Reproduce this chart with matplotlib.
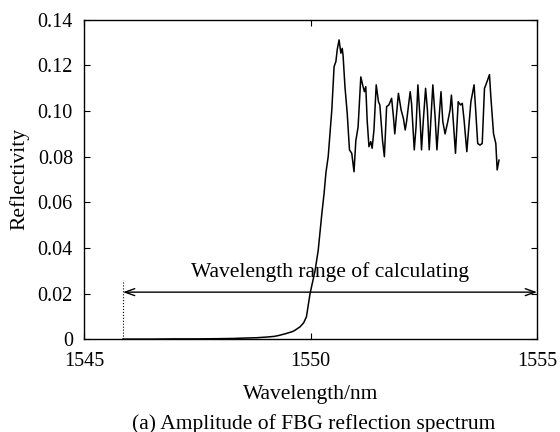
import matplotlib
matplotlib.use("Agg")
import matplotlib.pyplot as plt

# reflection spectrum (wavelength in nm, reflectivity)
wavelength = [1545.86, 1546.5, 1547.0, 1547.5, 1548.0, 1548.3, 1548.6, 1548.8, 1549.03,
              1549.2, 1549.3, 1549.47, 1549.6, 1549.65, 1549.77, 1549.85, 1549.91, 1549.99,
              1550.1, 1550.17, 1550.25, 1550.30, 1550.34, 1550.39, 1550.47, 1550.52,
              1550.56, 1550.59, 1550.63, 1550.67, 1550.70, 1550.72, 1550.76, 1550.81,
              1550.86, 1550.91, 1550.96, 1551.00, 1551.05, 1551.11, 1551.15, 1551.19,
              1551.22, 1551.25, 1551.29, 1551.33, 1551.36, 1551.40, 1551.45, 1551.50,
              1551.53, 1551.59, 1551.63, 1551.68, 1551.73, 1551.79, 1551.83, 1551.86,
              1551.94, 1552.00, 1552.05, 1552.09, 1552.12, 1552.20, 1552.23, 1552.29,
              1552.33, 1552.37, 1552.42, 1552.45, 1552.49, 1552.54, 1552.58, 1552.62,
              1552.66, 1552.70, 1552.75, 1552.79, 1552.84, 1552.88, 1552.92, 1552.97,
              1553.03, 1553.08, 1553.11, 1553.15, 1553.20, 1553.26, 1553.31, 1553.35,
              1553.39, 1553.45, 1553.50, 1553.54, 1553.61, 1553.65, 1553.69, 1553.74,
              1553.79, 1553.84, 1553.87, 1553.91, 1553.95, 1553.98, 1554.04, 1554.09,
              1554.12, 1554.16]
reflectivity = [0.0, 0.0, 0.0001, 0.0001, 0.0002, 0.0003, 0.0005, 0.0006, 0.0009,
                0.0012, 0.0016, 0.0025, 0.0033, 0.0038, 0.0054, 0.0072, 0.0098, 0.020,
                0.030, 0.039, 0.055, 0.064, 0.073, 0.080, 0.1005, 0.1195,
                0.1217, 0.127, 0.1312, 0.1254, 0.1275, 0.124, 0.1107, 0.099,
                0.083, 0.0815, 0.0734, 0.087, 0.093, 0.115, 0.1115, 0.1085,
                0.1107, 0.096, 0.0844, 0.0866, 0.0837, 0.0917, 0.1115, 0.1041,
                0.1027, 0.087, 0.080, 0.102, 0.1027, 0.1056, 0.0975, 0.090,
                0.1078, 0.1005, 0.0968, 0.0917, 0.0954, 0.1085, 0.1034, 0.083,
                0.0933, 0.1115, 0.096, 0.083, 0.096, 0.110, 0.1005, 0.083,
                0.0975, 0.1115, 0.0975, 0.083, 0.0975, 0.1085, 0.0954, 0.090,
                0.0954, 0.1005, 0.107, 0.096, 0.0815, 0.1041, 0.1027, 0.1034,
                0.096, 0.0822, 0.0947, 0.1041, 0.1115, 0.099, 0.0858, 0.0851,
                0.0858, 0.110, 0.1115, 0.1137, 0.116, 0.1063, 0.090, 0.0858,
                0.0742, 0.0785]

range_start = 1545.86
range_end = 1555.0
arrow_level = 0.0206
marker_top = 0.026
range_label = "Wavelength range of calculating"

plt.rcParams['font.family'] = ['Liberation Serif', 'DejaVu Serif']

fig = plt.figure(figsize=(5.6, 4.32), dpi=100)
ax = fig.add_axes([0.15, 0.215, 0.809, 0.739])

ax.plot(wavelength, reflectivity, color='black', lw=1.1)

# dotted marker at start of the calculating range
ax.plot([range_start, range_start], [0, marker_top], color='black', lw=0.8, ls=':')
ax.annotate('', xy=(range_end, arrow_level), xytext=(range_start, arrow_level),
            arrowprops=dict(arrowstyle='<->,head_length=0.7,head_width=0.25',
                            color='black', lw=1.0, shrinkA=0, shrinkB=0))
ax.text(1550.43, 0.0294, range_label, ha='center', va='center', fontsize=15.5)

ax.set_xlim(1545, 1555)
ax.set_ylim(0, 0.14)
ax.set_xticks([1545, 1550, 1555])
ax.set_yticks([0, 0.02, 0.04, 0.06, 0.08, 0.10, 0.12, 0.14])
ax.set_yticklabels(['0', '0.02', '0.04', '0.06', '0.08', '0.10', '0.12', '0.14'])
ax.tick_params(direction='in', top=True, right=True, length=4, labelsize=14.5)
ax.tick_params(axis='x', pad=9)
ax.tick_params(axis='y', pad=8)
for s in ax.spines.values():
    s.set_linewidth(1.0)

ax.set_xlabel('Wavelength/nm', fontsize=15.5, labelpad=10)
ax.set_ylabel('Reflectivity', fontsize=15.5, labelpad=6)
fig.text(0.561, 0.008, '(a) Amplitude of FBG reflection spectrum', ha='center',
         va='baseline', fontsize=15.5)

fig.savefig('out.png', dpi=100)
